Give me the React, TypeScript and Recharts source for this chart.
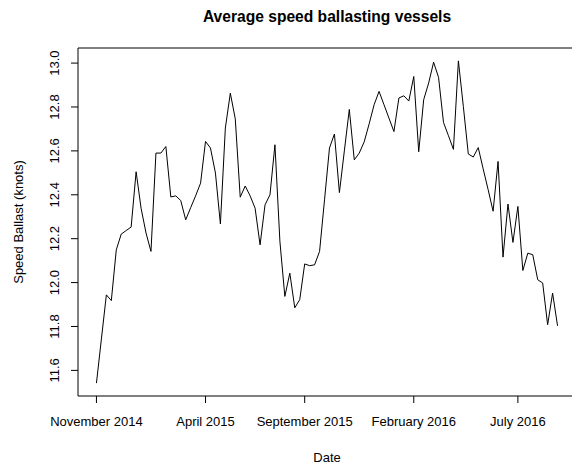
import React from "react";
import { LineChart, Line, XAxis, YAxis, ReferenceLine } from "recharts";

// Weekly average ballast speed (knots), in time order
const speedBallast: number[] = [
  11.542, 11.743, 11.944, 11.918, 12.149, 12.221, 12.237, 12.253, 12.505, 12.339,
  12.226, 12.142, 12.59, 12.59, 12.62, 12.39, 12.395, 12.374, 12.286, 12.341,
  12.395, 12.453, 12.643, 12.613, 12.499, 12.267, 12.704, 12.863, 12.746, 12.389,
  12.44, 12.395, 12.339, 12.172, 12.354, 12.4, 12.628, 12.188, 11.937, 12.043,
  11.885, 11.922, 12.085, 12.077, 12.081, 12.142, 12.377, 12.613, 12.677, 12.41,
  12.6, 12.789, 12.559, 12.59, 12.641, 12.723, 12.81, 12.871, 12.81, 12.749,
  12.688, 12.841, 12.851, 12.827, 12.939, 12.596, 12.833, 12.909, 13.004, 12.935,
  12.729, 12.669, 12.607, 13.01, 12.802, 12.586, 12.572, 12.615, 12.518, 12.423,
  12.325, 12.552, 12.116, 12.358, 12.183, 12.347, 12.055, 12.134, 12.127, 12.013,
  11.998, 11.808, 11.952, 11.803,
];

// Positions (observation index) of the labelled dates on the time axis
const dateTickIndex: number[] = [0, 22, 42, 64, 85];
const dateTickLabels: string[] = [
  "November 2014",
  "April 2015",
  "September 2015",
  "February 2016",
  "July 2016",
];

const speedTicks: number[] = [11.6, 11.8, 12.0, 12.2, 12.4, 12.6, 12.8, 13.0];

const data = speedBallast.map((speed, i) => ({ i, speed }));

// Base-graphics style axis ranges: data range extended by 4% on each side
const n = speedBallast.length;
const xPad = 0.04 * (n - 1);
const xDomain: [number, number] = [-xPad, n - 1 + xPad];
const yMin = Math.min(...speedBallast);
const yMax = Math.max(...speedBallast);
const yPad = 0.04 * (yMax - yMin);
const yDomain: [number, number] = [yMin - yPad, yMax + yPad];

const FONT = "'Liberation Sans', Arial, Helvetica, sans-serif";

const DateTick = (props: any) => {
  const { x, payload } = props;
  const k = dateTickIndex.indexOf(payload.value);
  return (
    <text x={x} y={421} dy="0.35em" textAnchor="middle" fontFamily={FONT} fontSize={13} fill="#000">
      {k >= 0 ? dateTickLabels[k] : ""}
    </text>
  );
};

const SpeedTick = (props: any) => {
  const { y, payload } = props;
  const cx = 54;
  return (
    <text
      x={cx}
      y={y}
      dy="0.35em"
      textAnchor="middle"
      transform={`rotate(-90, ${cx}, ${y})`}
      fontFamily={FONT}
      fontSize={13}
      fill="#000"
    >
      {Number(payload.value).toFixed(1)}
    </text>
  );
};

export default function App() {
  return (
    <div
      style={{
        position: "fixed",
        left: 0,
        top: 0,
        width: 572,
        height: 472,
        overflow: "hidden",
        background: "#fff",
      }}
    >
      <LineChart
        width={600}
        height={472}
        data={data}
        margin={{ top: 48, right: 24, bottom: 46, left: 18 }}
      >
        <XAxis
          dataKey="i"
          type="number"
          domain={xDomain}
          ticks={dateTickIndex}
          interval={0}
          allowDataOverflow
          height={30}
          tickSize={7}
          tickLine={{ stroke: "#000", strokeWidth: 1 }}
          axisLine={{ stroke: "#000", strokeWidth: 1 }}
          tick={<DateTick />}
        />
        <YAxis
          type="number"
          domain={yDomain}
          ticks={speedTicks}
          interval={0}
          allowDataOverflow
          width={60}
          tickSize={7}
          tickLine={{ stroke: "#000", strokeWidth: 1 }}
          axisLine={{ stroke: "#000", strokeWidth: 1 }}
          tick={<SpeedTick />}
        />
        <ReferenceLine y={yDomain[1]} stroke="#000" strokeWidth={1} />
        <ReferenceLine x={xDomain[1]} stroke="#000" strokeWidth={1} />
        <Line
          type="linear"
          dataKey="speed"
          stroke="#000"
          strokeWidth={1}
          dot={false}
          activeDot={false}
          isAnimationActive={false}
        />
      </LineChart>
      <svg
        width={572}
        height={472}
        style={{ position: "absolute", left: 0, top: 0, pointerEvents: "none" }}
      >
        <text x={327} y={17} dy="0.35em" textAnchor="middle" fontFamily={FONT} fontSize={15.6} fontWeight="bold" fill="#000">
          Average speed ballasting vessels
        </text>
        <text x={327} y={457} dy="0.35em" textAnchor="middle" fontFamily={FONT} fontSize={13} fill="#000">
          Date
        </text>
        <text
          x={18}
          y={222}
          dy="0.35em"
          textAnchor="middle"
          transform="rotate(-90, 18, 222)"
          fontFamily={FONT}
          fontSize={13}
          fill="#000"
        >
          Speed Ballast (knots)
        </text>
      </svg>
    </div>
  );
}
